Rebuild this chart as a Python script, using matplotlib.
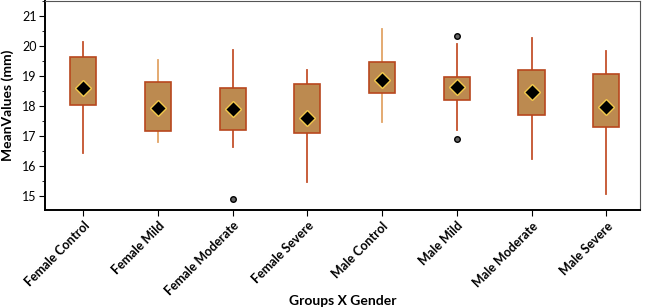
import matplotlib
matplotlib.use('Agg')
import matplotlib.pyplot as plt
from matplotlib.ticker import MultipleLocator

groups = ['Female Control', 'Female Mild', 'Female Moderate', 'Female Severe',
          'Male Control', 'Male Mild', 'Male Moderate', 'Male Severe']
whis_low = [16.44, 16.81, 16.64, 15.46, 17.48, 17.20, 16.23, 15.06]
q1 = [18.02, 17.17, 17.20, 17.11, 18.44, 18.20, 17.69, 17.29]
means = [18.61, 17.94, 17.90, 17.61, 18.87, 18.62, 18.48, 17.96]
q3 = [19.62, 18.79, 18.61, 18.72, 19.46, 18.98, 19.19, 19.07]
whis_high = [20.14, 19.52, 19.87, 19.20, 20.56, 20.07, 20.26, 19.84]
outliers = [[], [], [14.90], [], [], [20.34, 16.89], [], []]

whisker_colors = ['#C4522C', '#E2A466', '#C4522C', '#C4522C',
                  '#E2A466', '#C4522C', '#C4522C', '#C4522C']

plt.rcParams['font.family'] = ['Lato', 'DejaVu Sans']

fig = plt.figure(figsize=(6.45, 3.07), dpi=100)
ax = fig.add_axes([0.070, 0.316, 0.922, 0.681])

stats = []
for i in range(len(groups)):
    stats.append({'label': groups[i], 'whislo': whis_low[i], 'q1': q1[i],
                  'med': means[i], 'q3': q3[i], 'whishi': whis_high[i],
                  'mean': means[i], 'fliers': outliers[i]})

pos = list(range(1, len(groups) + 1))
bp = ax.bxp(stats, positions=pos, widths=0.35, patch_artist=True,
            showmeans=True, showcaps=False,
            boxprops=dict(facecolor='#BC8A50', edgecolor='#B8471E', linewidth=1.2),
            medianprops=dict(linewidth=0),
            meanprops=dict(marker='D', markerfacecolor='black',
                           markeredgecolor='#F2C84B', markersize=8,
                           markeredgewidth=1.0),
            flierprops=dict(marker='o', markerfacecolor='#666666',
                            markeredgecolor='black', markersize=4))

for i, c in enumerate(whisker_colors):
    for w in bp['whiskers'][2 * i:2 * i + 2]:
        w.set(color=c, linewidth=1.3, zorder=1)

ax.set_xlim(0.49, 8.45)
ax.set_ylim(14.53, 21.5)
ax.yaxis.set_major_locator(MultipleLocator(1))
ax.yaxis.set_minor_locator(MultipleLocator(0.5))
ax.tick_params(axis='y', which='major', length=4, labelsize=9, pad=2)
ax.tick_params(axis='y', which='minor', length=2)
ax.tick_params(axis='x', length=4, labelsize=9, pad=3)
ax.set_xticks(pos)
ax.set_xticklabels(groups, rotation=45, ha='right', rotation_mode='anchor',
                   fontweight='bold')

ax.spines['left'].set_linewidth(1.4)
ax.spines['bottom'].set_linewidth(1.4)
ax.spines['top'].set_color('#555555')
ax.spines['right'].set_color('#555555')

ax.set_ylabel('MeanValues (mm)', fontsize=10, fontweight='bold', labelpad=6)
ax.set_xlabel('Groups X Gender', fontsize=10, fontweight='bold')
ax.xaxis.set_label_coords(0.5, -0.435)
ax.xaxis.label.set_va('center')

plt.savefig('out.png', dpi=100)
